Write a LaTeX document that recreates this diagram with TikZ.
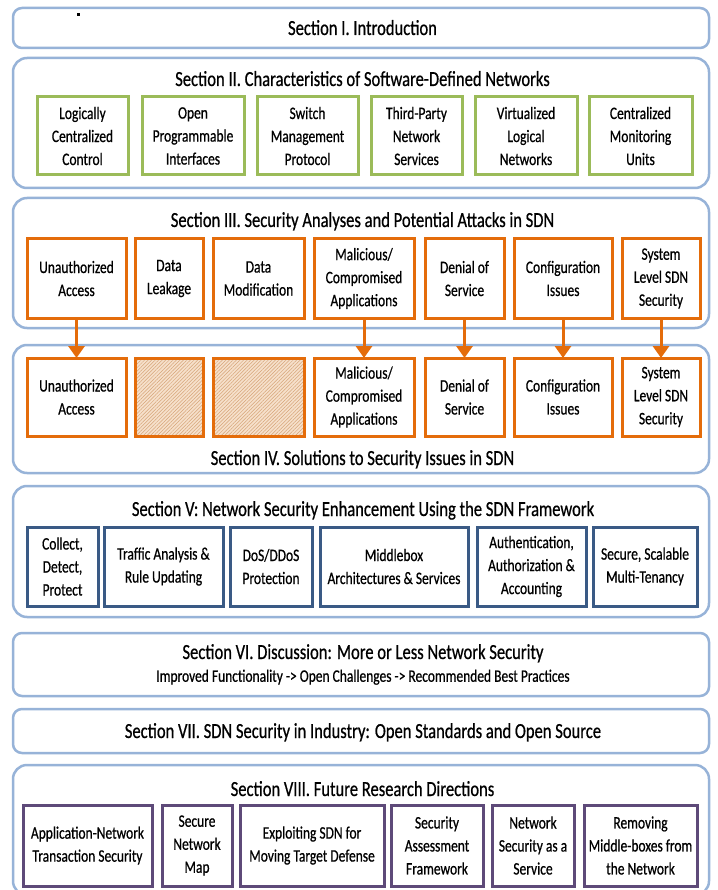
\documentclass[tikz,border=0pt]{standalone}
\usepackage{fontspec}
\setmainfont{Carlito}[FakeStretch=0.77, FakeBold=0.6]
\usetikzlibrary{arrows.meta,patterns.meta}

\definecolor{secblue}{HTML}{97B3D8}
\definecolor{grn}{HTML}{9BBB59}
\definecolor{org}{HTML}{E46C0A}
\definecolor{nav}{HTML}{3A5A85}
\definecolor{prp}{HTML}{5E4A79}
\definecolor{peach}{HTML}{F6E0CB}
\definecolor{hatchc}{HTML}{D6A478}

\newcommand\ttlfont{\fontsize{21.5}{25}\selectfont}
\newcommand\bxfont{\fontsize{17.5}{23}\selectfont}

\tikzset{
  secbox/.style={draw=secblue, line width=2.5pt, fill=white, rounded corners=14pt,
    minimum width=696pt, inner sep=0pt, outer sep=0pt},
  thinsec/.style={secbox, rounded corners=9pt},
  ttl/.style={font=\ttlfont, inner sep=0pt, text height=14pt, text depth=0pt},
  sub/.style={font=\bxfont, inner sep=0pt, text height=11.5pt, text depth=0pt},
  itembox/.style={line width=3pt, fill=white, align=center, font=\bxfont,
    inner sep=0pt, outer sep=0pt},
  gbox/.style={itembox, draw=grn, minimum height=78pt},
  obox/.style={itembox, draw=org, minimum height=79pt},
  pbox/.style={itembox, draw=org, minimum height=78pt},
  hbox/.style={pbox, preaction={fill=peach},
    pattern={Lines[angle=45, distance=2.5pt, line width=0.5pt]}, pattern color=hatchc},
  nbox/.style={itembox, draw=nav, minimum height=79pt},
  vbox/.style={itembox, draw=prp, minimum height=81pt},
  oarrow/.style={draw=org, line width=3pt, -{Triangle[width=16pt, length=12pt]}},
}

\begin{document}
\begin{tikzpicture}[x=1pt, y=-1pt]
\useasboundingbox (0,0) rectangle (717,890);
\clip (0,0) rectangle (717,890);
\fill[white] (0,0) rectangle (717,890);

% Section I
\node[thinsec, minimum height=40pt] (s1) at (361,28) {};
\node[ttl] (t1) at (362.5,28) {Section I. Introduction};
\fill[black] (76.5,13.5) rectangle (79.5,16.5);

% Section II
\node[secbox, minimum height=130pt] (s2) at (361,123) {};
\node[ttl] (t2) at (362.5,79) {Section II. Characteristics of Software-Defined Networks};
\node[gbox, minimum width=91pt]  (g1) at (82.5,136)  {Logically\\Centralized\\Control};
\node[gbox, minimum width=102pt] (g2) at (193,136)   {Open\\Programmable\\Interfaces};
\node[gbox, minimum width=101pt] (g3) at (307.5,136) {Switch\\Management\\Protocol};
\node[gbox, minimum width=91pt]  (g4) at (416.5,136) {Third-Party\\Network\\Services};
\node[gbox, minimum width=102pt] (g5) at (526,136)   {Virtualized\\Logical\\Networks};
\node[gbox, minimum width=103pt] (g6) at (640.5,136) {Centralized\\Monitoring\\Units};

% Section III
\node[secbox, minimum height=130pt] (s3) at (361,263) {};
\node[ttl] (t3) at (362.5,220) {Section III. Security Analyses and Potential Attacks in SDN};
\node[obox, minimum width=99pt]  (o1) at (76.5,278.5)  {Unauthorized\\Access};
\node[obox, minimum width=68pt]  (o2) at (169,278.5)   {Data\\Leakage};
\node[obox, minimum width=91pt]  (o3) at (258.5,278.5) {Data\\Modification};
\node[obox, minimum width=100pt] (o4) at (364,278.5)   {Malicious/\\Compromised\\Applications};
\node[obox, minimum width=79pt]  (o5) at (464.5,278.5) {Denial of\\Service};
\node[obox, minimum width=98pt]  (o6) at (563,278.5)   {Configuration\\Issues};
\node[obox, minimum width=78pt]  (o7) at (661,278.5)   {System\\Level SDN\\Security};

% Section IV
\node[secbox, minimum height=128pt] (s4) at (361,409) {};
\node[ttl] (t4) at (362.5,458) {Section IV. Solutions to Security Issues in SDN};
\node[pbox, minimum width=99pt]  (p1) at (76.5,397)  {Unauthorized\\Access};
\node[hbox, minimum width=68pt]  (p2) at (169,397)   {};
\node[hbox, minimum width=91pt]  (p3) at (258.5,397) {};
\node[pbox, minimum width=100pt] (p4) at (364,397)   {Malicious/\\Compromised\\Applications};
\node[pbox, minimum width=79pt]  (p5) at (464.5,397) {Denial of\\Service};
\node[pbox, minimum width=98pt]  (p6) at (563,397)   {Configuration\\Issues};
\node[pbox, minimum width=78pt]  (p7) at (661,397)   {System\\Level SDN\\Security};

% Attacks mapped to their solutions
\draw[oarrow] (o1.south) -- (p1.north);
\draw[oarrow] (o4.south) -- (p4.north);
\draw[oarrow] (o5.south) -- (p5.north);
\draw[oarrow] (o6.south) -- (p6.north);
\draw[oarrow] (o7.south) -- (p7.north);

% Section V
\node[secbox, minimum height=131pt] (s5) at (361,551.5) {};
\node[ttl] (t5) at (363,509) {Section V: Network Security Enhancement Using the SDN Framework};
\node[nbox, minimum width=71pt]  (b1) at (62.5,566.5)  {Collect,\\Detect,\\Protect};
\node[nbox, minimum width=119pt] (b2) at (163.5,566.5) {Traffic Analysis \&\\Rule Updating};
\node[nbox, minimum width=82pt]  (b3) at (271,566.5)   {DoS/DDoS\\Protection};
\node[nbox, minimum width=148pt] (b4) at (394,566.5)   {Middlebox\\Architectures \& Services};
\node[nbox, minimum width=109pt] (b5) at (531.5,566.5) {Authentication,\\Authorization \&\\Accounting};
\node[nbox, minimum width=104pt] (b6) at (645,566.5)   {Secure, Scalable\\Multi-Tenancy};

% Section VI
\node[thinsec, minimum height=63pt] (s6) at (361,664.5) {};
\node[ttl] (t6) at (363,652) {Section VI. Discussion: More or Less Network Security};
\node[sub] (u6) at (363,676) {Improved Functionality -> Open Challenges -> Recommended Best Practices};

% Section VII
\node[thinsec, minimum height=44pt] (s7) at (361,731) {};
\node[ttl] (t7) at (363,731) {Section VII. SDN Security in Industry: Open Standards and Open Source};

% Section VIII
\node[secbox, minimum height=130pt] (s8) at (361,830) {};
\node[ttl] (t8) at (362.5,789) {Section VIII. Future Research Directions};
\node[vbox, minimum width=129pt] (v1) at (87.5,845.5) {Application-Network\\Transaction Security};
\node[vbox, minimum width=70pt]  (v2) at (197,845.5)  {Secure\\Network\\Map};
\node[vbox, minimum width=144pt] (v3) at (312,845.5)  {Exploiting SDN for\\Moving Target Defense};
\node[vbox, minimum width=92pt]  (v4) at (437,845.5)  {Security\\Assessment\\Framework};
\node[vbox, minimum width=82pt]  (v5) at (533,845.5)  {Network\\Security as a\\Service};
\node[vbox, minimum width=113pt] (v6) at (640.5,845.5) {Removing\\Middle-boxes from\\the Network};
\end{tikzpicture}
\end{document}
